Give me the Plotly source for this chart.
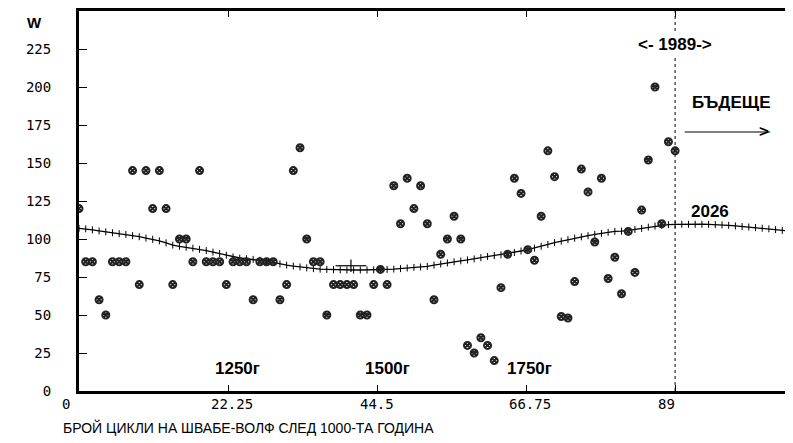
import plotly.graph_objects as go

# observed values (one point per Schwabe-Wolf cycle after year 1000)
cycle_x = list(range(0, 90))
cycle_w = [120, 85, 85, 60, 50, 85, 85, 85, 145, 70,
           145, 120, 145, 120, 70, 100, 100, 85, 145, 85,
           85, 85, 70, 85, 85, 85, 60, 85, 85, 85,
           60, 70, 145, 160, 100, 85, 85, 50, 70, 70,
           70, 70, 50, 50, 70, 80, 70, 135, 110, 140,
           120, 135, 110, 60, 90, 100, 115, 100, 30, 25,
           35, 30, 20, 68, 90, 140, 130, 93, 86, 115,
           158, 141, 49, 48, 72, 146, 131, 98, 140, 74,
           88, 64, 105, 78, 119, 152, 200, 110, 164, 158]

# trend curve (one value per cycle)
trend_x = list(range(0, 108))
trend_w = [107, 106.7, 106, 105.3, 104.7, 104.1, 103.5, 103, 102.2, 101.5,
           100.6, 99.8, 98.8, 97.5, 96, 95.2, 94.6, 94, 93.2, 92.4,
           91.4, 90.5, 89.3, 88.2, 87.5, 87, 86.6, 86, 85.3, 84.6,
           83.6, 82.8, 82.2, 81.6, 81, 80.5, 80.2, 80, 79.8, 79.7,
           79.6, 79.6, 79.6, 79.6, 79.7, 79.9, 80, 80.2, 80.5, 80.9,
           81.3, 81.6, 82, 82.8, 83.6, 84.3, 85, 85.6, 86.2, 86.9,
           87.7, 88.5, 89.1, 89.6, 90.2, 91.1, 92.1, 93, 94, 95.2,
           96.4, 97.6, 98.6, 99.6, 100.6, 101.4, 102.2, 103, 103.7, 104.4,
           105, 105.2, 105.5, 106.3, 107, 107.8, 108.5, 109, 109.4, 109.6,
           109.7, 109.7, 109.7, 109.7, 109.6, 109.5, 109.3, 109, 108.6, 108.2,
           107.9, 107.5, 107.1, 106.7, 106.2, 105.7, 105.3, 104.9]

# special cross mark
mark_x = [40.6]
mark_w = [82.4]

x_ticks = [0, 22.25, 44.5, 66.75, 89]
x_tick_labels = ["0", "22.25", "44.5", "66.75", "89"]
y_ticks = [0, 25, 50, 75, 100, 125, 150, 175, 200, 225]
y_tick_labels = ["0", "25", "50", "75", "100", "125", "150", "175", "200", "225"]

present_x = 89
era_labels = ["1250г", "1500г", "1750г"]
era_x = [23.6, 46.0, 67.2]

TICKFONT = dict(family="DejaVu Sans Mono", size=14, color="black")
BOLD = dict(family="Liberation Sans", size=17, color="black", weight="bold")

fig = go.Figure()

fig.add_trace(go.Scatter(
    x=trend_x, y=trend_w, mode="lines+markers",
    line=dict(color="black", width=1.3),
    marker=dict(symbol="line-ns-open", size=5, color="black",
                line=dict(color="black", width=1)),
    showlegend=False, hoverinfo="skip"))

fig.add_trace(go.Scatter(
    x=cycle_x, y=cycle_w, mode="markers",
    marker=dict(symbol="circle-x-open", size=7, color="#222",
                line=dict(color="#222", width=2)),
    showlegend=False))

fig.add_trace(go.Scatter(
    x=mark_x, y=mark_w, mode="markers",
    marker=dict(symbol="line-ew-open", size=22, color="black",
                line=dict(color="black", width=1.2)),
    showlegend=False, hoverinfo="skip"))
fig.add_trace(go.Scatter(
    x=mark_x, y=mark_w, mode="markers",
    marker=dict(symbol="line-ns-open", size=9, color="black",
                line=dict(color="black", width=1.2)),
    showlegend=False, hoverinfo="skip"))

# present-day dotted line
fig.add_shape(type="line", x0=present_x, x1=present_x, y0=0, y1=1, yref="paper",
              line=dict(color="black", width=1, dash="dot"))

annotations = []
for lbl, xv in zip(era_labels, era_x):
    annotations.append(dict(x=xv, y=14.7, text=lbl, showarrow=False, font=BOLD,
                            yanchor="middle"))
annotations.append(dict(x=present_x, y=228, text="<- 1989->", showarrow=False,
                        font=BOLD, bgcolor="white", yanchor="middle"))
annotations.append(dict(x=97.4, y=189.5, text="БЪДЕЩЕ", showarrow=False, font=BOLD,
                        yanchor="middle"))
annotations.append(dict(x=103.2, y=170.4, ax=90.2, ay=170.4, axref="x", ayref="y",
                        text="", showarrow=True, arrowhead=0, arrowwidth=1.2,
                        arrowcolor="black"))
annotations.append(dict(x=103.3, y=170.4, text="&gt;", showarrow=False, xanchor="right",
                        yanchor="middle",
                        font=dict(family="Liberation Sans", size=17, color="black", weight="bold")))
annotations.append(dict(x=94.2, y=118.2, text="2026", showarrow=False, font=BOLD,
                        yanchor="middle"))
annotations.append(dict(x=-0.076, y=0.969, xref="paper", yref="paper", text="W",
                        showarrow=False, yanchor="middle",
                        font=dict(family="Liberation Sans", size=15,
                                  color="black", weight="bold")))
for tv, tl in zip(x_ticks, x_tick_labels):
    annotations.append(dict(x=tv, y=-0.035, yref="paper", text=tl, showarrow=False,
                            xanchor="left", xshift=-19, yanchor="middle", font=TICKFONT))
annotations.append(dict(x=-0.025, y=-0.095, xref="paper", yref="paper",
                        text="БРОЙ ЦИКЛИ НА ШВАБЕ-ВОЛФ СЛЕД 1000-ТА ГОДИНА",
                        showarrow=False, xanchor="left", yanchor="middle",
                        font=dict(family="Liberation Sans", size=14, color="black")))

# the page adds an 8px body margin; the figure is sized so the plot area
# lands where the reference has it
fig.update_layout(
    width=785, height=435,
    margin=dict(l=71, r=0, t=0, b=52),
    paper_bgcolor="white", plot_bgcolor="white",
    annotations=annotations,
    xaxis=dict(range=[0, 106.6], tickvals=x_ticks, showticklabels=False,
               ticks="inside", ticklen=6, tickwidth=1, tickcolor="black",
               showline=True, linewidth=3, linecolor="black", mirror="ticks",
               showgrid=False, zeroline=False),
    yaxis=dict(range=[0, 250], tickvals=y_ticks, ticktext=y_tick_labels,
               ticks="inside", ticklen=8, tickwidth=1, tickcolor="black",
               showline=True, linewidth=3, linecolor="black",
               showgrid=False, zeroline=False, tickfont=TICKFONT,
               ticklabelstandoff=22),
)

fig.write_html("out.html")
